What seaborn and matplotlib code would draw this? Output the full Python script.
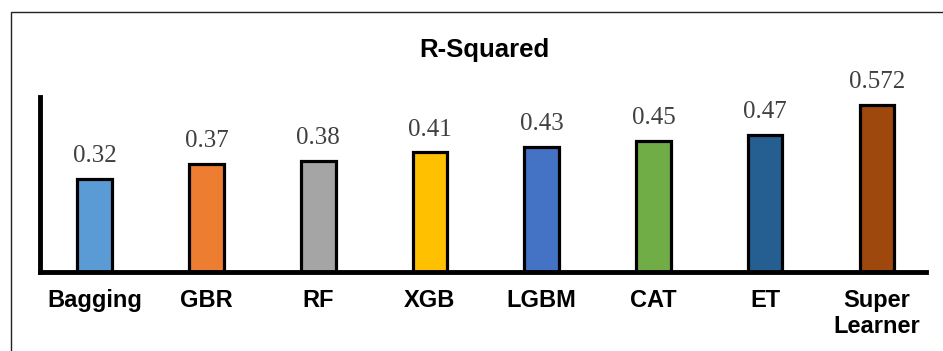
import matplotlib
matplotlib.use("Agg")
import matplotlib.pyplot as plt
import seaborn as sns
import pandas as pd
from matplotlib.patches import Rectangle

models = ["Bagging", "GBR", "RF", "XGB", "LGBM", "CAT", "ET", "Super\nLearner"]
r2 = [0.32, 0.37, 0.38, 0.41, 0.43, 0.45, 0.47, 0.572]
value_text = ["0.32", "0.37", "0.38", "0.41", "0.43", "0.45", "0.47", "0.572"]
colors = ["#5B9BD5", "#ED7D31", "#A5A5A5", "#FFC000", "#4472C4", "#70AD47", "#255E91", "#9E480E"]

sns.set_theme(style="white")
plt.rcParams["font.family"] = ["Liberation Sans", "DejaVu Sans"]

df = pd.DataFrame({"model": models, "r2": r2})

fig = plt.figure(figsize=(9.43, 3.51), dpi=100)
ax = fig.add_axes([40 / 943, 1 - 272 / 351, (926 - 40) / 943, (272 - 97) / 351])

sns.barplot(data=df, x="model", y="r2", hue="model", palette=colors, legend=False,
            width=0.31, edgecolor="black", linewidth=2.3, ax=ax, saturation=1)

for i, (v, t) in enumerate(zip(r2, value_text)):
    ax.annotate(t, (i, v), xytext=(0, 12), textcoords="offset points", ha="center", va="baseline",
                fontsize=18, family="Liberation Serif", color="#404040")

ax.set_xlim(-0.49, 7.44)
ax.set_ylim(0, 0.60)
ax.set_xlabel("")
ax.set_ylabel("")
ax.set_yticks([])
ax.tick_params(axis="x", length=0, pad=12)
for lab in ax.get_xticklabels():
    lab.set_fontweight("bold")
    lab.set_fontsize(17)
    lab.set_color("black")
    lab.set_linespacing(1.2)

for side in ["top", "right"]:
    ax.spines[side].set_visible(False)
for side in ["left", "bottom"]:
    ax.spines[side].set_visible(True)
    ax.spines[side].set_color("black")
    ax.spines[side].set_linewidth(3.5)
ax.spines["left"].set_capstyle("projecting")

fig.text(484 / 943, 1 - 50 / 351, "R-Squared", ha="center", va="center",
         fontsize=18.5, fontweight="bold", color="black")

# chart frame
fig.patches.append(Rectangle((11 / 943, -0.1), 1.1, 1 - 12 / 351 + 0.1, transform=fig.transFigure,
                             fill=False, edgecolor="#222222", linewidth=1.0))

fig.savefig("out.png", dpi=100, facecolor="white")
